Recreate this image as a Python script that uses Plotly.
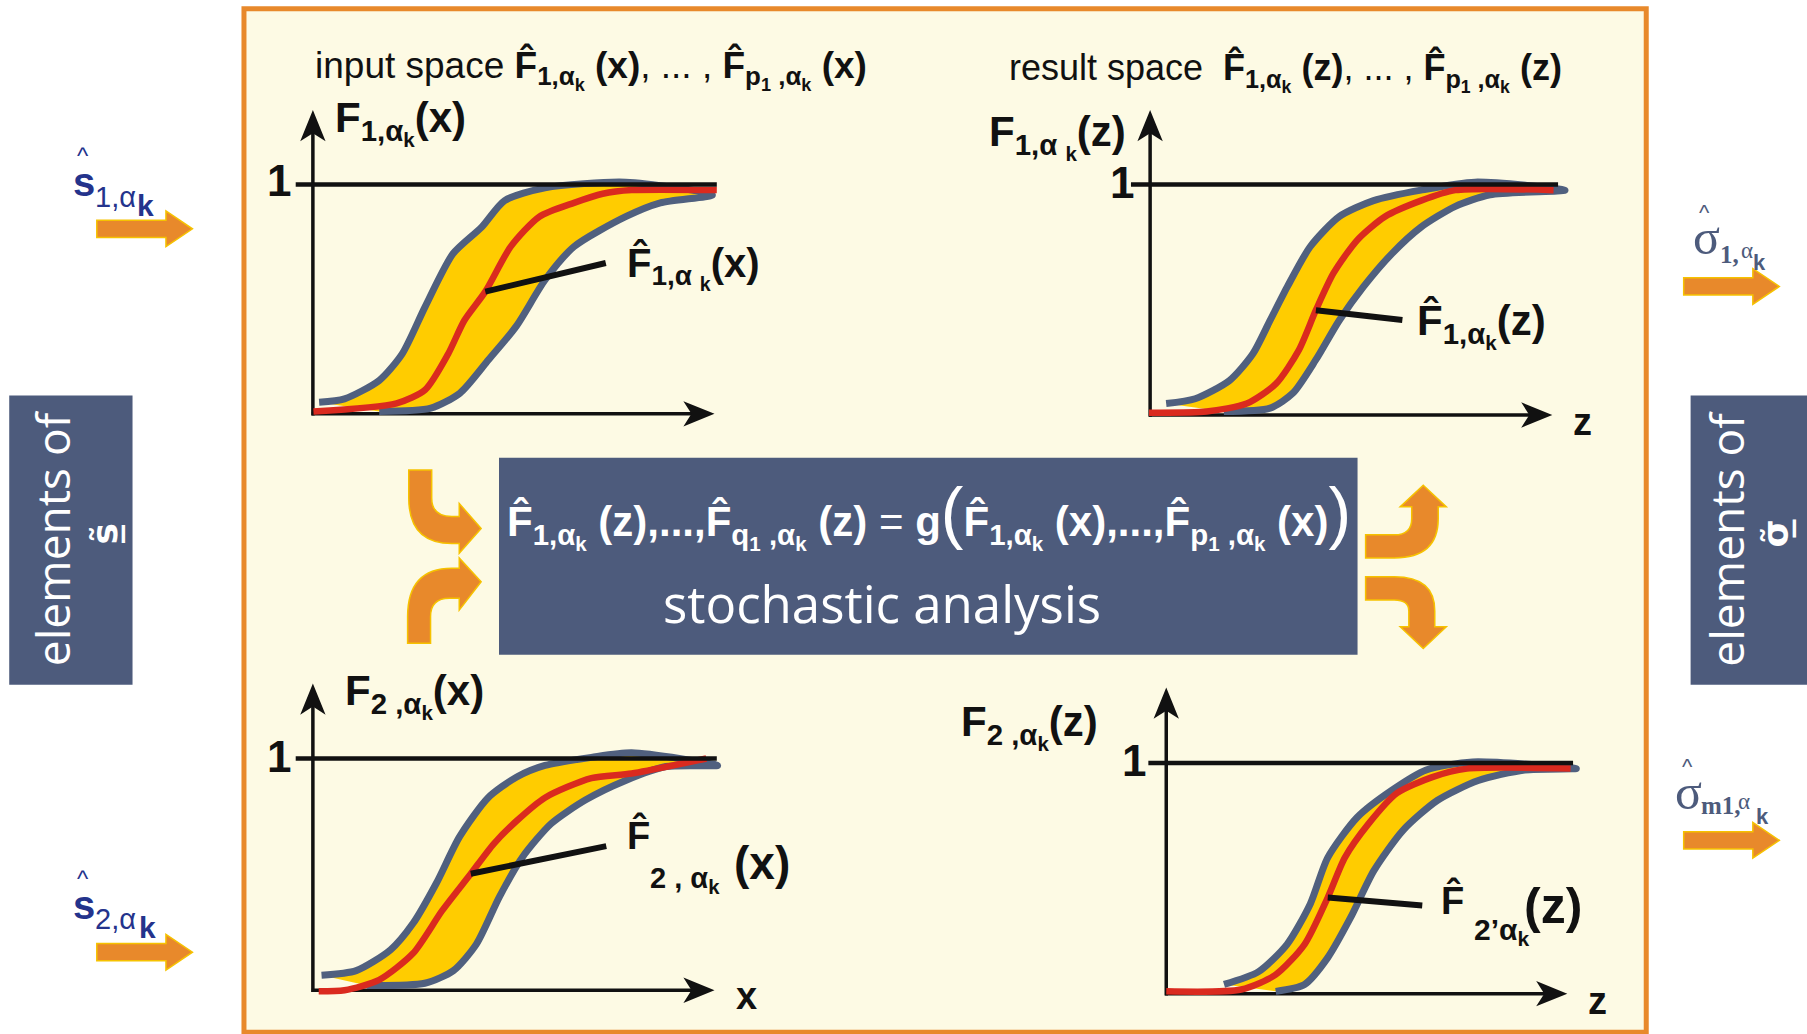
import plotly.graph_objects as go

W, H = 1807, 1034
BW, BH = 1568.0, 897.0          # layout grid (reference scale)

# ---------------- data (x normalised along axis, F value 0..1) ----------------
# panel 1 : input space F1(x)
p1_red_x = [0.0, 0.206, 0.277, 0.334, 0.374, 0.426, 0.489, 0.56, 0.646, 0.717, 0.789, 1.0]
p1_red_y = [0.0, 0.036, 0.096, 0.254, 0.401, 0.528, 0.726, 0.858, 0.919, 0.959, 0.975, 0.975]
p1_hi_x = [0.014, 0.077, 0.163, 0.22, 0.277, 0.346, 0.417, 0.474, 0.574, 0.774]
p1_hi_y = [0.041, 0.056, 0.137, 0.254, 0.462, 0.695, 0.812, 0.929, 0.985, 1.01]
p1_lo_x = [0.163, 0.291, 0.363, 0.434, 0.503, 0.574, 0.646, 0.774, 0.86, 0.989]
p1_lo_y = [0.0, 0.015, 0.081, 0.228, 0.376, 0.579, 0.726, 0.858, 0.919, 0.954]

# panel 2 : result space F1(z)
p2_red_x = [0.0, 0.141, 0.239, 0.31, 0.366, 0.408, 0.451, 0.51, 0.577, 0.665, 0.749, 0.989]
p2_red_y = [0.0, 0.005, 0.04, 0.126, 0.273, 0.449, 0.611, 0.758, 0.859, 0.929, 0.975, 0.975]
p2_hi_x = [0.042, 0.113, 0.197, 0.254, 0.296, 0.338, 0.394, 0.465, 0.549, 0.665, 0.797]
p2_hi_y = [0.04, 0.061, 0.141, 0.258, 0.404, 0.551, 0.727, 0.859, 0.929, 0.975, 1.01]
p2_lo_x = [0.183, 0.296, 0.352, 0.408, 0.465, 0.524, 0.594, 0.665, 0.749, 0.834, 1.017]
p2_lo_y = [0.005, 0.02, 0.086, 0.232, 0.404, 0.551, 0.697, 0.813, 0.904, 0.955, 0.975]

# panel 3 : input space F2(x)
p3_red_x = [0.013, 0.077, 0.163, 0.247, 0.319, 0.39, 0.447, 0.504, 0.574, 0.689, 0.789, 0.974]
p3_red_y = [-0.01, -0.005, 0.04, 0.155, 0.34, 0.5, 0.63, 0.73, 0.83, 0.915, 0.935, 1.0]
p3_hi_x = [0.02, 0.106, 0.191, 0.247, 0.305, 0.362, 0.433, 0.504, 0.574, 0.689, 0.789]
p3_hi_y = [0.06, 0.08, 0.17, 0.285, 0.46, 0.66, 0.83, 0.92, 0.97, 1.005, 1.025]
p3_lo_x = [0.133, 0.276, 0.347, 0.404, 0.461, 0.518, 0.589, 0.674, 0.774, 0.874, 1.002]
p3_lo_y = [0.015, 0.025, 0.08, 0.195, 0.4, 0.572, 0.717, 0.82, 0.905, 0.965, 0.97]

# panel 4 : result space F2(z)
p4_red_x = [0.0, 0.184, 0.269, 0.34, 0.397, 0.439, 0.497, 0.567, 0.654, 0.739, 0.994]
p4_red_y = [0.005, 0.013, 0.078, 0.21, 0.414, 0.588, 0.735, 0.869, 0.939, 0.976, 0.976]
p4_hi_x = [0.142, 0.227, 0.297, 0.354, 0.397, 0.469, 0.554, 0.639, 0.753]
p4_hi_y = [0.035, 0.091, 0.21, 0.386, 0.588, 0.763, 0.881, 0.97, 1.005]
p4_lo_x = [0.269, 0.34, 0.397, 0.453, 0.51, 0.582, 0.667, 0.767, 0.881, 1.008]
p4_lo_y = [0.005, 0.035, 0.152, 0.326, 0.53, 0.707, 0.838, 0.924, 0.97, 0.976]

one_x = [-0.044, 1.0]     # the "F = 1" reference line
one_y = [1.0, 1.0]

# ---------------- styles ----------------
SANS = "Liberation Sans, Arial, sans-serif"
ROUND = "Open Sans, Lato, sans-serif"
SERIF = "Liberation Serif, DejaVu Serif, serif"
SYMF = "DejaVu Sans, sans-serif"
CREAM = "#FDFAE4"
ORANGE = "#E8892B"
ORANGE_EDGE = "#F6C200"
SLATE = "#4D5B7C"
YELLOW = "#FFCC00"
BAND_EDGE = "#50607F"
RED = "#DA2A1F"
INK = "#111111"
NAVY = "#24338C"

panels = [
    dict(data=(p1_red_x, p1_red_y, p1_hi_x, p1_hi_y, p1_lo_x, p1_lo_y),
         ox=272, oy=357, ux=622, uy=160, axx=271.5, axy=359, ytip=95.5, xtip=620,
         lead=5, lax=122, lay=-29),
    dict(data=(p2_red_x, p2_red_y, p2_hi_x, p2_hi_y, p2_lo_x, p2_lo_y),
         ox=997, oy=358, ux=1352, uy=160, axx=998, axy=360, ytip=95.5, xtip=1347,
         lead=5, lax=88, lay=10),
    dict(data=(p3_red_x, p3_red_y, p3_hi_x, p3_hi_y, p3_lo_x, p3_lo_y),
         ox=272, oy=858, ux=622, uy=658, axx=271.5, axy=859, ytip=593, xtip=620,
         lead=5, lax=137, lay=-28),
    dict(data=(p4_red_x, p4_red_y, p4_hi_x, p4_hi_y, p4_lo_x, p4_lo_y),
         ox=1012, oy=861, ux=1365, uy=662, axx=1012, axy=862, ytip=596.5, xtip=1360,
         lead=4, lax=96, lay=8),
]

XR = (-0.12, 1.12)
YR = (-0.1, 1.15)

fig = go.Figure()
# invisible anchor trace for the full-page layout axis
fig.add_trace(go.Scatter(x=[0], y=[0], mode="markers", marker=dict(opacity=0),
                         hoverinfo="skip", showlegend=False, xaxis="x", yaxis="y"))

layout_axes = {}
annotations = []
shapes = []

for i, p in enumerate(panels):
    n = i + 2
    rx, ry, hx, hy, lx, ly = p["data"]
    xa, ya = f"x{n}", f"y{n}"
    sx = p["ux"] - p["ox"]
    sy = p["oy"] - p["uy"]
    d_x0 = (p["ox"] + XR[0] * sx) / BW
    d_x1 = (p["ox"] + XR[1] * sx) / BW
    d_y0 = 1 - (p["oy"] - YR[0] * sy) / BH
    d_y1 = 1 - (p["oy"] - YR[1] * sy) / BH
    layout_axes[f"xaxis{n}"] = dict(domain=[d_x0, d_x1], range=list(XR), visible=False,
                                    fixedrange=True, anchor=ya)
    layout_axes[f"yaxis{n}"] = dict(domain=[d_y0, d_y1], range=list(YR), visible=False,
                                    fixedrange=True, anchor=xa)
    # yellow uncertainty band
    fig.add_trace(go.Scatter(x=hx + lx[::-1], y=hy + ly[::-1], mode="lines", fill="toself",
                             fillcolor=YELLOW, line=dict(color=BAND_EDGE, width=7, shape="spline",
                                                         smoothing=0.7),
                             hoverinfo="skip", showlegend=False, xaxis=xa, yaxis=ya))
    # red estimate
    fig.add_trace(go.Scatter(x=rx, y=ry, mode="lines",
                             line=dict(color=RED, width=6.5, shape="spline", smoothing=0.7),
                             hoverinfo="skip", showlegend=False, xaxis=xa, yaxis=ya))
    # F = 1 line
    fig.add_trace(go.Scatter(x=one_x, y=one_y, mode="lines", line=dict(color=INK, width=4.5),
                             hoverinfo="skip", showlegend=False, xaxis=xa, yaxis=ya))
    # leader line to the red curve
    k = p["lead"]
    annotations.append(dict(x=rx[k], y=ry[k], xref=xa, yref=ya, text="", showarrow=True,
                            arrowhead=0, arrowwidth=6, arrowcolor=INK,
                            ax=p["lax"], ay=p["lay"]))
    # axes with arrow heads
    axx, axy, yt, xt = p["axx"], p["axy"], p["ytip"], p["xtip"]
    shapes.append(dict(type="line", xref="x", yref="y", x0=axx, x1=axx, y0=axy + 1.5, y1=yt + 12,
                       line=dict(color=INK, width=3.5), layer="below"))
    shapes.append(dict(type="path", xref="x", yref="y", layer="below", fillcolor=INK,
                       line=dict(width=0),
                       path=f"M {axx},{yt} L {axx-11},{yt+27} L {axx},{yt+20} L {axx+11},{yt+27} Z"))
    shapes.append(dict(type="line", xref="x", yref="y", x0=axx - 1, x1=xt - 12, y0=axy, y1=axy,
                       line=dict(color=INK, width=3.5), layer="below"))
    shapes.append(dict(type="path", xref="x", yref="y", layer="below", fillcolor=INK,
                       line=dict(width=0),
                       path=f"M {xt},{axy} L {xt-27},{axy-11} L {xt-20},{axy} L {xt-27},{axy+11} Z"))

# ---------------- frame, boxes, arrows ----------------
bg_shapes = [
    dict(type="rect", xref="x", yref="y", x0=211.7, x1=1428.5, y0=7.5, y1=895.5,
         fillcolor=CREAM, line=dict(color=ORANGE, width=5), layer="below"),
    dict(type="rect", xref="x", yref="y", x0=8, x1=115, y0=343, y1=594,
         fillcolor=SLATE, line=dict(width=0), layer="below"),
    dict(type="rect", xref="x", yref="y", x0=1467, x1=BW + 2, y0=343, y1=594,
         fillcolor=SLATE, line=dict(width=0), layer="below"),
    dict(type="rect", xref="x", yref="y", x0=433, x1=1178, y0=397, y1=568,
         fillcolor=SLATE, line=dict(width=0), layer="below"),
]


def straight_arrow(x0, yc):
    return (f"M {x0},{yc-7.5} L {x0+60},{yc-7.5} L {x0+60},{yc-15.5} L {x0+83},{yc} "
            f"L {x0+60},{yc+15.5} L {x0+60},{yc+7.5} L {x0},{yc+7.5} Z")


arrow_paths = [
    straight_arrow(84, 198.5), straight_arrow(84, 826),
    straight_arrow(1461, 248.5), straight_arrow(1461, 729),
    # curved arrows into the analysis box
    "M 354.7,407.8 L 374.6,407.8 L 374.6,432 Q 374.6,448 392,448 L 398.5,448 L 398.5,436.8 "
    "L 417.5,458.5 L 398.5,480 L 398.5,471.5 L 392,471.5 Q 354.7,471.5 354.7,432 Z",
    "M 353.7,558 L 353.7,535 Q 353.7,493 392,493 L 398.5,493 L 398.5,484 L 417.5,504.7 "
    "L 398.5,529.3 L 398.5,519 L 390,519 Q 373.6,519 373.6,535 L 373.6,558 Z",
    # curved arrows out of the analysis box
    "M 1185,464 L 1210,464 Q 1225,464 1225,450 L 1225,439.7 L 1215,439.7 L 1235,421 "
    "L 1255,439.7 L 1248,439.7 L 1248,450 Q 1248,484 1210,484 L 1185,484 Z",
    "M 1185,500.4 L 1210,500.4 Q 1245,500.4 1245,530 L 1245,543.8 L 1255,543.8 L 1235,562.6 "
    "L 1215,543.8 L 1222.5,543.8 L 1222.5,530 Q 1222.5,520.6 1210,520.6 L 1185,520.6 Z",
]
for pth in arrow_paths:
    bg_shapes.append(dict(type="path", xref="x", yref="y", path=pth, fillcolor=ORANGE,
                          line=dict(color=ORANGE_EDGE, width=1.5), layer="below"))

shapes = bg_shapes + shapes


# ---------------- text ----------------
def txt(x, y, text, size, color=INK, family=SANS, xanchor="left", yanchor="middle", angle=0):
    return dict(x=x, y=y, xref="x", yref="y", text=text, showarrow=False,
                font=dict(size=size, color=color, family=family),
                xanchor=xanchor, yanchor=yanchor, textangle=angle)


ak = "α<sub>k</sub>"
texts = [
    # titles
    txt(272, 60, f"input space <b>F̂<sub>1,{ak}</sub> (x)</b>, ... , <b>F̂<sub>p<sub>1</sub> ,{ak}</sub> (x)</b>", 37),
    txt(874, 62, f"result space  <b>F̂<sub>1,{ak}</sub> (z)</b>, ... , <b>F̂<sub>p<sub>1</sub> ,{ak}</sub> (z)</b>", 36),
    # axis labels
    txt(289, 106, f"<b>F<sub>1,{ak}</sub>(x)</b>", 42),
    txt(979, 118, f"<b>F<sub>1,α <sub>k</sub></sub>(z)</b>", 42, xanchor="right"),
    txt(298, 603, f"<b>F<sub>2 ,{ak}</sub>(x)</b>", 42),
    txt(832, 630, f"<b>F<sub>2 ,{ak}</sub>(z)</b>", 42),
    # "1" ticks
    txt(242, 157, "<b>1</b>", 44, xanchor="center"),
    txt(974, 158, "<b>1</b>", 44, xanchor="center"),
    txt(242, 656, "<b>1</b>", 44, xanchor="center"),
    txt(984, 660, "<b>1</b>", 44, xanchor="center"),
    # axis letters
    txt(1373, 366, "<b>z</b>", 38, xanchor="center"),
    txt(648, 864, "<b>x</b>", 38, xanchor="center"),
    txt(1386, 868, "<b>z</b>", 38, xanchor="center"),
    # curve labels
    txt(542, 232, f"<b>F̂<sub>1,α <sub>k</sub></sub>(x)</b>", 40),
    txt(1228, 282, f"<b>F̂<sub>1,{ak}</sub>(z)</b>", 42),
    txt(542, 724, "<b>F̂</b>", 38),
    txt(562, 763, f"<b>2 , {ak}</b>", 29),
    txt(635, 749, "<b>(x)</b>", 46),
    txt(1249, 780, "<b>F̂</b>", 38),
    txt(1277, 808, f"<b>2’{ak}</b>", 30),
    txt(1321, 786, "<b>(z)</b>", 50),
    # analysis box
    txt(806, 446,
        f"<b>F̂<sub>1,{ak}</sub> (z),...,F̂<sub>q<sub>1</sub> ,{ak}</sub> (z)</b> = "
        f"<b>g</b><span style='font-size:68px'>(</span>"
        f"<b>F̂<sub>1,{ak}</sub> (x),...,F̂<sub>p<sub>1</sub> ,{ak}</sub> (x)</b>"
        f"<span style='font-size:68px'>)</span>",
        42, color="white", xanchor="center"),
    txt(765, 523, "stochastic analysis", 51, color="white", family=ROUND, xanchor="center"),
    # side boxes
    txt(45, 467, "elements of", 46, color="white", family=ROUND, xanchor="center", angle=-90),
    txt(91, 463, "<b>s̲̃</b>", 36, color="white", family=SYMF, xanchor="center", angle=-90),
    txt(1498, 467, "elements of", 46, color="white", family=ROUND, xanchor="center", angle=-90),
    txt(1541, 463, "<b>σ̲̃</b>", 36, color="white", family=SYMF, xanchor="center", angle=-90),
    # input labels  s^_{1,alpha_k}, s^_{2,alpha_k}
    txt(72, 135, "^", 24, color=NAVY, xanchor="center"),
    txt(62, 158, "<b>s</b>", 40, color=NAVY),
    txt(81, 171, "1,α", 29, color=NAVY),
    txt(117, 178, "<b>k</b>", 30, color=NAVY),
    txt(72, 762, "^", 24, color=NAVY, xanchor="center"),
    txt(62, 785, "<b>s</b>", 40, color=NAVY),
    txt(81, 797, "2,α", 29, color=NAVY),
    txt(119, 805, "<b>k</b>", 30, color=NAVY),
    # output labels  sigma^_{1,alpha_k}, sigma^_{m1,alpha_k}
    txt(1479, 184, "^", 22, color=SLATE, xanchor="center"),
    txt(1467, 206, "σ", 50, color=SLATE, family=SERIF),
    txt(1491, 221, "<b>1,</b>", 25, color=SLATE, family=SERIF),
    txt(1509, 217, "α", 23, color=SLATE, family=SERIF),
    txt(1519, 228, "<b>k</b>", 22, color=SLATE),
    txt(1464, 665, "^", 22, color=SLATE, xanchor="center"),
    txt(1452, 687, "σ", 50, color=SLATE, family=SERIF),
    txt(1474, 699, "<b>m1,</b>", 25, color=SLATE, family=SERIF),
    txt(1506, 695, "α", 23, color=SLATE, family=SERIF),
    txt(1522, 708, "<b>k</b>", 22, color=SLATE),
]
annotations = texts + annotations

fig.update_layout(
    width=W, height=H,
    margin=dict(l=0, r=0, t=0, b=0),
    paper_bgcolor="white", plot_bgcolor="rgba(0,0,0,0)",
    showlegend=False,
    xaxis=dict(domain=[0, 1], range=[0, BW], visible=False, fixedrange=True),
    yaxis=dict(domain=[0, 1], range=[BH, 0], visible=False, fixedrange=True),
    shapes=shapes,
    annotations=annotations,
    **layout_axes,
)

fig.write_html("out.html", config={"displayModeBar": False},
               post_script="document.body.style.margin='0px';")
